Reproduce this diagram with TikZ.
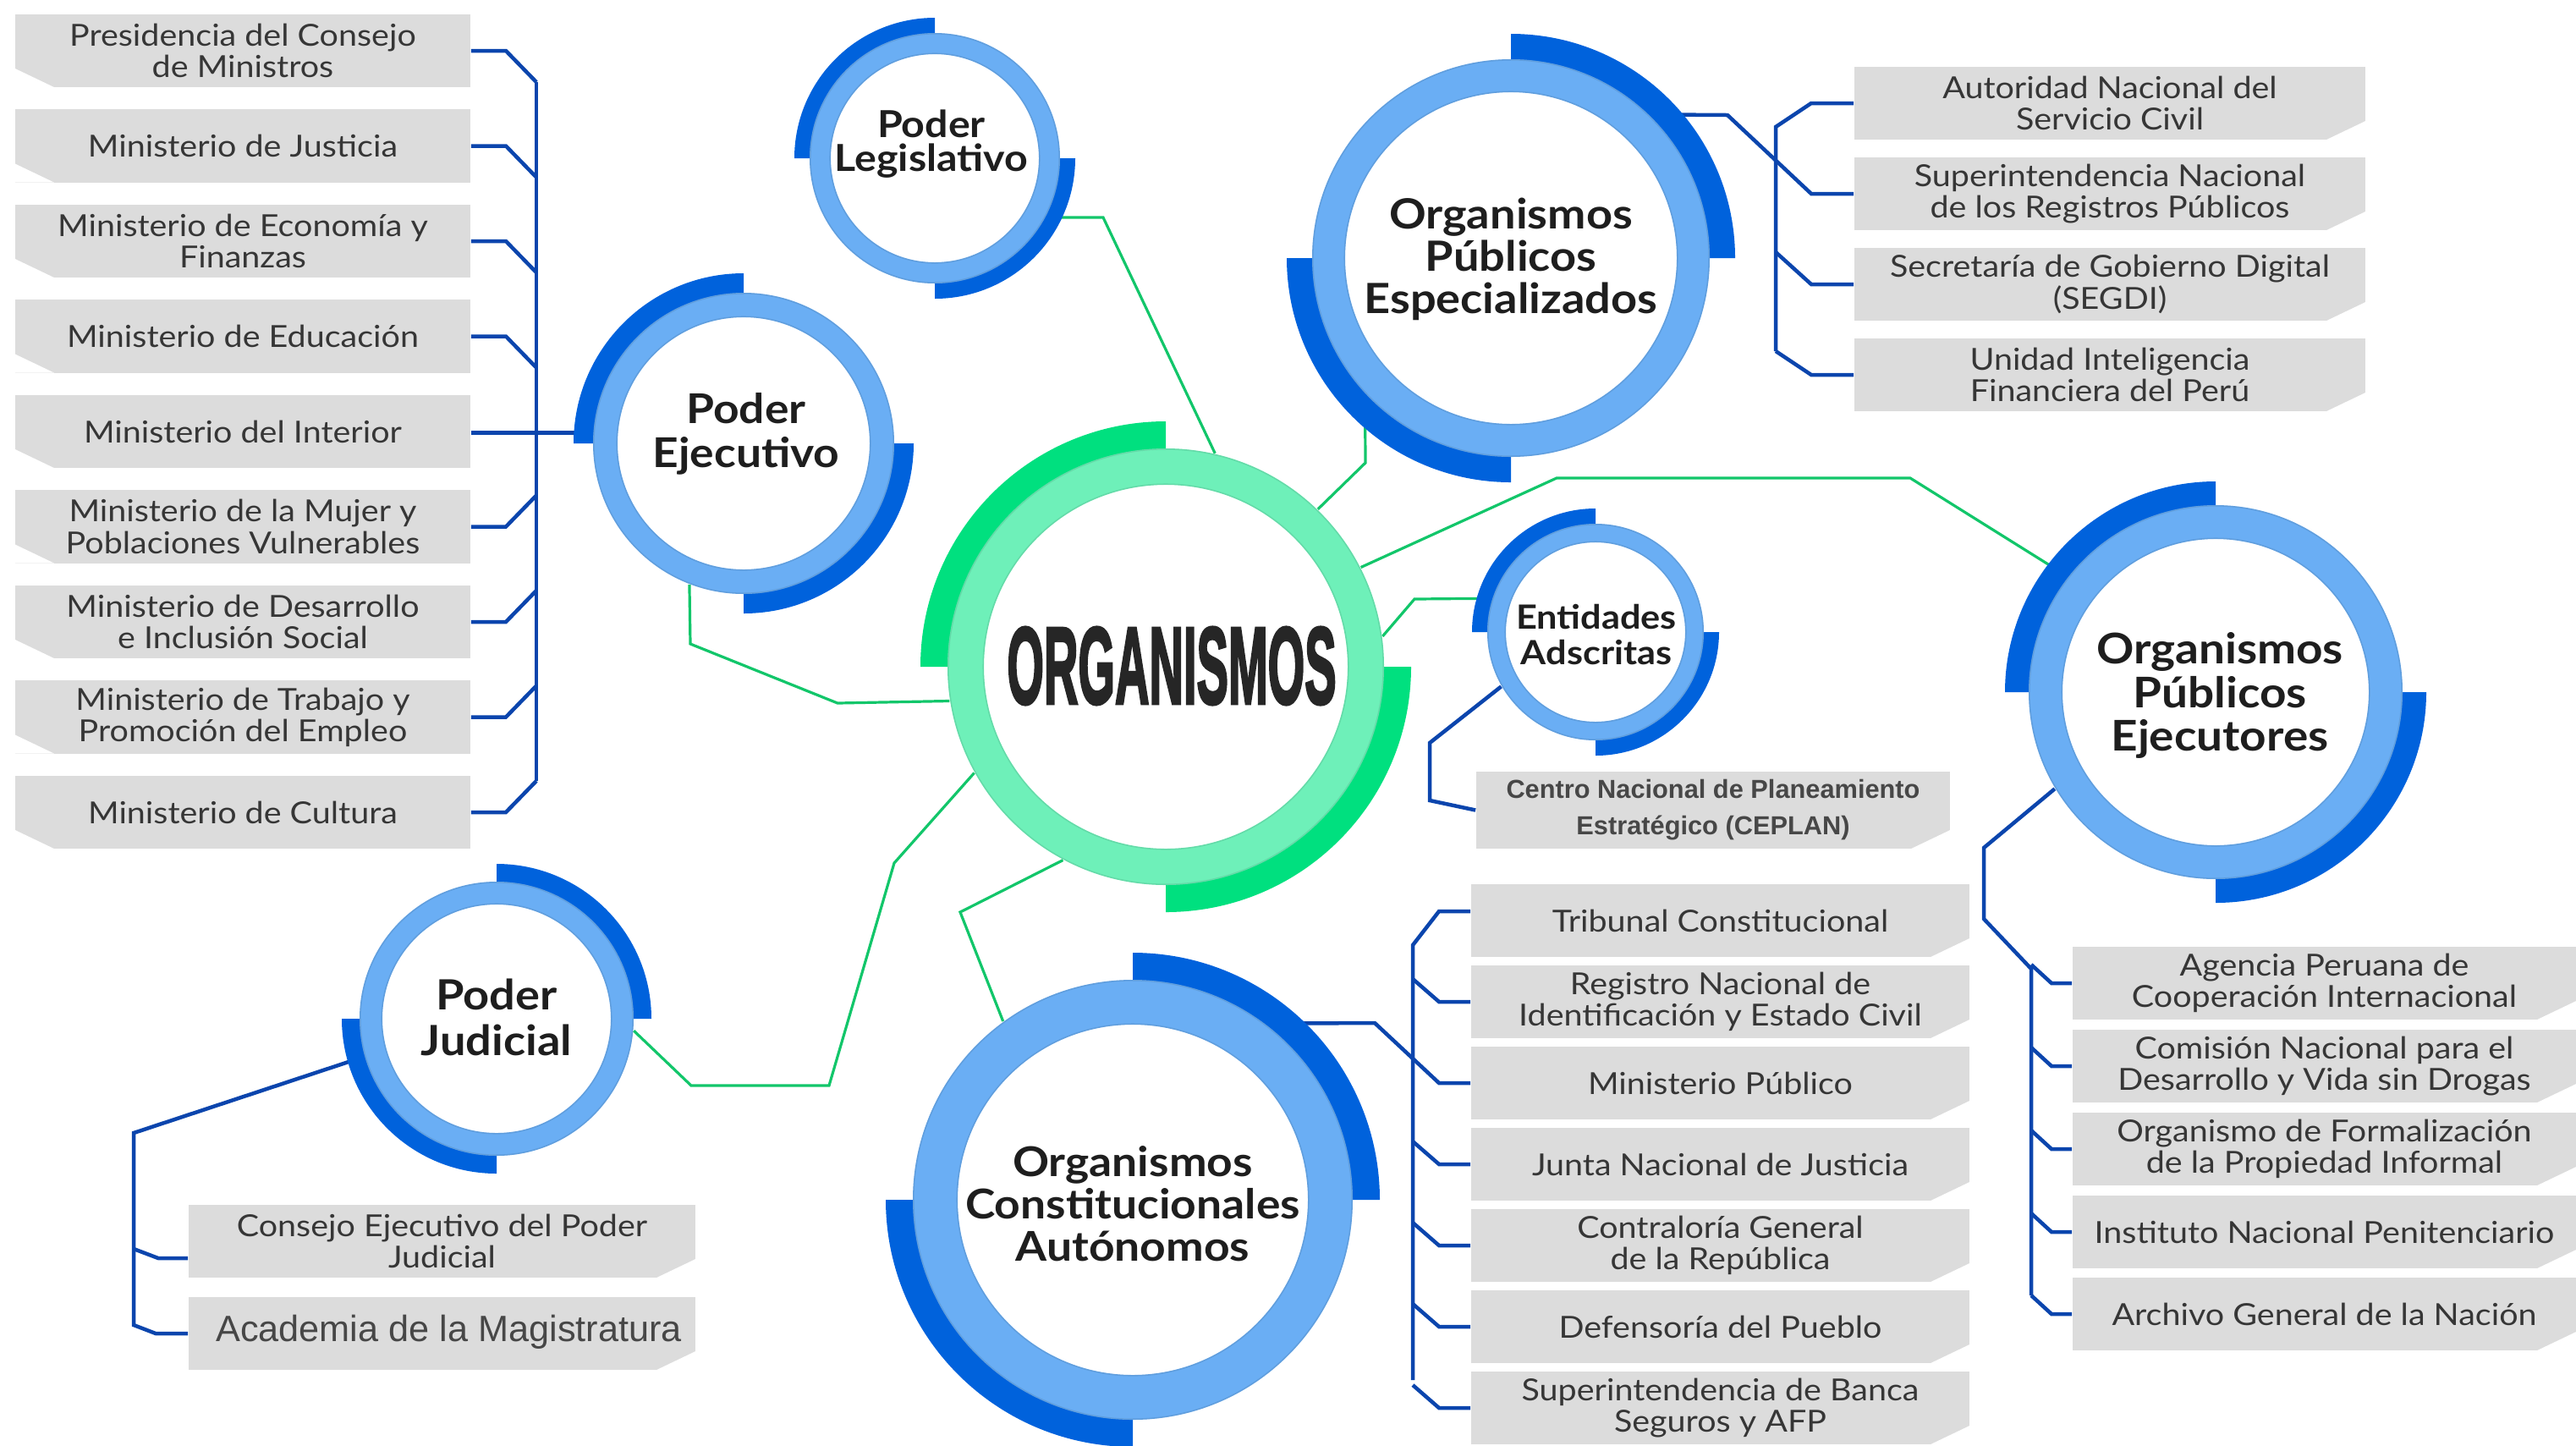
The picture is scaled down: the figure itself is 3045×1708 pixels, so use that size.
\documentclass[tikz,border=0pt]{standalone}
\usepackage{fontspec}
\usepackage{graphicx}
\usetikzlibrary{calc}
\newfontfamily\boxf{Lato}[FakeStretch=1.1]
\newfontfamily\arialf{Liberation Sans}
\newfontfamily\orgf{Liberation Sans}[BoldFeatures={FakeBold=3}]
\newcommand\titfont[2]{\boxf\bfseries\fontsize{#1}{#2}\selectfont}
\newcommand\bxfont{\boxf\fontsize{10.2}{10.6}\selectfont}
\definecolor{ringblue}{HTML}{6AAEF4}
\definecolor{arcblue}{HTML}{0062DC}
\definecolor{mint}{HTML}{6EF0B9}
\definecolor{arcgreen}{HTML}{00E07F}
\definecolor{lineblue}{HTML}{0B45AD}
\definecolor{linegreen}{HTML}{12C66A}
\definecolor{boxgray}{HTML}{DCDCDC}
\definecolor{boxtext}{HTML}{363636}
\definecolor{tittext}{HTML}{1E1E1E}
\pgfdeclarelayer{bg}
\pgfsetlayers{bg,main}
% #1 node, #2 Ro, #3 Ri, #4 Rd, #5 start angle, #6 arc colour
\newcommand\myarcs[6]{%
  \foreach \aa in {#5,#5+180}{%
    \fill[#6] ($(#1.center)+(\aa:#4)$) arc[start angle=\aa, delta angle=90, radius=#4]
      -- ($(#1.center)+(\aa+90:#2-8)$) arc[start angle=\aa+90, delta angle=-90, radius=#2-8] -- cycle;}%
}
% #1 node, #2 Ro, #3 Ri, #4 colour
\newcommand\mydisc[4]{%
  \fill[#4, even odd rule] (#1.center) circle[radius=#2] (#1.center) circle[radius=#3];
  \draw[#4!70!black, opacity=0.3, line width=0.015cm] (#1.center) circle[radius=#2-0.8] (#1.center) circle[radius=#3+0.8];
}
\begin{document}
\begin{tikzpicture}[x=0.01cm, y=0.01cm,
  circnode/.style={circle, minimum size=#1, inner sep=0pt},
  ctitle/.style={align=center, text=tittext, inner sep=0pt},
  gbox/.style={fill=boxgray, inner sep=0pt, minimum height=0.86cm, text=boxtext, align=center, font=\bxfont},
  chamL/.style={path picture={\fill[white] (path picture bounding box.south west) -- ++(0.46cm,0) -- ++(-0.46cm,0.22cm) -- cycle;}},
  chamR/.style={path picture={\fill[white] (path picture bounding box.south east) -- ++(-0.46cm,0) -- ++(0.46cm,0.22cm) -- cycle;}},
  gline/.style={linegreen, line width=0.032cm},
  bline/.style={lineblue, line width=0.045cm}]
\useasboundingbox (0,0) rectangle (3045,-1708);
\clip (0,0) rectangle (3045,-1708);

% ---------- circle nodes ----------
\node[circnode=5.16cm] (org) at (1378,-788) {};
\node[circnode=2.96cm] (leg) at (1105,-187) {};
\node[circnode=3.56cm] (eje) at (879,-524) {};
\node[circnode=3.24cm] (jud) at (587,-1204) {};
\node[circnode=4.70cm] (ope) at (1786,-305) {};
\node[circnode=4.42cm] (opej) at (2619,-818) {};
\node[circnode=2.56cm] (ent) at (1886,-747) {};
\node[circnode=5.20cm] (oca) at (1339,-1418) {};

% ---------- rings ----------
\myarcs{org}{258}{215}{290}{90}{arcgreen}
\mydisc{org}{258}{215}{mint}
\myarcs{leg}{148}{123}{166}{90}{arcblue}
\mydisc{leg}{148}{123}{ringblue}
\myarcs{eje}{178}{149}{201}{90}{arcblue}
\mydisc{eje}{178}{149}{ringblue}
\myarcs{jud}{162}{135}{183}{0}{arcblue}
\mydisc{jud}{162}{135}{ringblue}
\myarcs{ope}{235}{196}{265}{0}{arcblue}
\mydisc{ope}{235}{196}{ringblue}
\myarcs{opej}{221}{181}{249}{90}{arcblue}
\mydisc{opej}{221}{181}{ringblue}
\myarcs{ent}{128}{106}{146}{90}{arcblue}
\mydisc{ent}{128}{106}{ringblue}
\myarcs{oca}{260}{207}{292}{0}{arcblue}
\mydisc{oca}{260}{207}{ringblue}

% ---------- titles ----------
\node[inner sep=0pt, text=black!85] (orgT) at (1385,-787) {\resizebox{3.89cm}{0.90cm}{\orgf\bfseries ORGANISMOS}};
\node[ctitle, font=\titfont{12.5}{11.2}] (legT) at (1101,-170) {Poder\\Legislativo};
\node[ctitle, font=\titfont{13.8}{14.8}] (ejeT) at (882,-513) {Poder\\Ejecutivo};
\node[ctitle, font=\titfont{14}{15.4}] (judT) at (587,-1202) {Poder\\Judicial};
\node[ctitle, font=\titfont{14}{14.2}] (opeT) at (1786,-306) {Organismos\\Públicos\\Especializados};
\node[ctitle, font=\titfont{14.2}{14.6}] (opejT) at (2624,-822) {Organismos\\Públicos\\Ejecutores};
\node[ctitle, font=\titfont{11.2}{12.2}] (entT) at (1887,-750) {Entidades\\Adscritas};
\node[ctitle, font=\titfont{13.8}{14.2}] (ocaT) at (1339,-1423) {Organismos\\Constitucionales\\Autónomos};

% ---------- boxes: Poder Ejecutivo ----------
\node[gbox, chamL, minimum width=5.38cm] (b1) at (287,-60) {Presidencia del Consejo\\de Ministros};
\node[gbox, chamL, minimum width=5.38cm] (b2) at (287,-172.5) {Ministerio de Justicia};
\node[gbox, chamL, minimum width=5.38cm] (b3) at (287,-285) {Ministerio de Economía y\\Finanzas};
\node[gbox, chamL, minimum width=5.38cm] (b4) at (287,-397.5) {Ministerio de Educación};
\node[gbox, chamL, minimum width=5.38cm] (b5) at (287,-510) {Ministerio del Interior};
\node[gbox, chamL, minimum width=5.38cm] (b6) at (287,-622.5) {Ministerio de la Mujer y\\Poblaciones Vulnerables};
\node[gbox, chamL, minimum width=5.38cm] (b7) at (287,-735) {Ministerio de Desarrollo\\e Inclusión Social};
\node[gbox, chamL, minimum width=5.38cm] (b8) at (287,-847.5) {Ministerio de Trabajo y\\Promoción del Empleo};
\node[gbox, chamL, minimum width=5.38cm] (b9) at (287,-960) {Ministerio de Cultura};

% ---------- boxes: OPE ----------
\node[gbox, chamR, minimum width=6.04cm] (s1) at (2494,-122) {Autoridad Nacional del\\Servicio Civil};
\node[gbox, chamR, minimum width=6.04cm] (s2) at (2494,-229) {Superintendencia Nacional\\de los Registros Públicos};
\node[gbox, chamR, minimum width=6.04cm] (s3) at (2494,-336) {Secretaría de Gobierno Digital\\(SEGDI)};
\node[gbox, chamR, minimum width=6.04cm] (s4) at (2494,-443) {Unidad Inteligencia\\Financiera del Perú};

% ---------- boxes: Judicial ----------
\node[gbox, chamR, minimum width=5.99cm] (cj) at (522.5,-1467) {Consejo Ejecutivo del Poder\\Judicial};
\node[gbox, chamR, minimum width=5.99cm, text=black!72, font=\arialf\fontsize{12.3}{14}\selectfont] (ac) at (522.5,-1576) {\raisebox{0.12cm}{\hspace*{0.16cm}Academia de la Magistratura}};

% ---------- box: Entidades ----------
\node[gbox, chamR, minimum width=5.60cm, minimum height=0.91cm, text=black!72, font=\arialf\bfseries\fontsize{8.75}{12.2}\selectfont] (cep) at (2025,-957.5) {Centro Nacional de Planeamiento\\Estratégico (CEPLAN)};

% ---------- boxes: OCA ----------
\node[gbox, chamR, minimum width=5.89cm] (t1) at (2033.5,-1088) {Tribunal Constitucional};
\node[gbox, chamR, minimum width=5.89cm] (t2) at (2033.5,-1184) {Registro Nacional de\\Identificación y Estado Civil};
\node[gbox, chamR, minimum width=5.89cm] (t3) at (2033.5,-1280) {Ministerio Público};
\node[gbox, chamR, minimum width=5.89cm] (t4) at (2033.5,-1376) {Junta Nacional de Justicia};
\node[gbox, chamR, minimum width=5.89cm] (t5) at (2033.5,-1472) {Contraloría General\\de la República};
\node[gbox, chamR, minimum width=5.89cm] (t6) at (2033.5,-1568) {Defensoría del Pueblo};
\node[gbox, chamR, minimum width=5.89cm] (t7) at (2033.5,-1664) {Superintendencia de Banca\\Seguros y AFP};

% ---------- boxes: OPEjec ----------
\node[gbox, chamR, minimum width=5.95cm] (u1) at (2747.5,-1162) {Agencia Peruana de\\Cooperación Internacional};
\node[gbox, chamR, minimum width=5.95cm] (u2) at (2747.5,-1260) {Comisión Nacional para el\\Desarrollo y Vida sin Drogas};
\node[gbox, chamR, minimum width=5.95cm] (u3) at (2747.5,-1358) {Organismo de Formalización\\de la Propiedad Informal};
\node[gbox, chamR, minimum width=5.95cm] (u4) at (2747.5,-1456) {Instituto Nacional Penitenciario};
\node[gbox, chamR, minimum width=5.95cm] (u5) at (2747.5,-1553) {Archivo General de la Nación};

\coordinate (kcj) at (187,-1487);
\coordinate (kt1) at (1701,-1077);

% ---------- connectors ----------
\begin{pgfonlayer}{bg}
% green
\draw[gline] (org.77.3) -- (1304,-257) -- (leg.-28);
\draw[gline] (org.189.5) -- (990,-831) -- (816,-761) -- (eje.249.4);
\draw[gline] (org.209.4) -- (1057,-1020) -- (980,-1283) -- (817,-1283) -- (jud.-5);
\draw[gline] (org.242.4) -- (1135,-1078) -- (oca.126.6);
\draw[gline] (org.46.4) -- (1614,-547) -- (ope.223);
\draw[gline] (org.27.8) -- (1840,-565) -- (2258,-565) -- (opej.142.4);
\draw[gline] (org.8.9) -- (1672,-708) -- (ent.162.3);
% Ejecutivo
\draw[bline] (eje.176) -- (b5.east |- eje.176);
\draw[bline] (634,-97) -- (634,-923);
\foreach \n/\yy in {b1/60, b2/172.5, b3/285, b4/397.5}
  \draw[bline] (\n.east) -- (598,-\yy) -- (634,-\yy-37);
\foreach \n/\yy in {b6/622.5, b7/735, b8/847.5, b9/960}
  \draw[bline] (\n.east) -- (598,-\yy) -- (634,-\yy+37);
% OPE
\draw[bline] (ope.46) -- (2042,-136) -- (2141,-229) -- (s2.west);
\draw[bline] (s1.west) -- (2141,-122) -- (2099,-150) -- (2099,-415);
\draw[bline] (2099,-298) -- (2141,-336) -- (s3.west);
\draw[bline] (2099,-415) -- (2141,-443) -- (s4.west);
% Entidades
\draw[bline] (ent.210.6) -- (1690,-878) -- (1690,-946) -- (cep.west);
% Judicial
\draw[bline] (jud.196.5) -- (158,-1339) -- (158,-1566) -- (184,-1576) -- (ac.west);
\draw[bline] (158,-1476) -- (kcj) -- (cj.west |- kcj);
% OCA
\draw[bline] (oca.53.5) -- (1625,-1209) -- (1701,-1280) -- (t3.west);
\draw[bline] (t1.west |- kt1) -- (kt1) -- (1670,-1117) -- (1670,-1631);
\foreach \n/\yy in {t2/1184, t4/1376, t5/1472, t6/1568, t7/1664}
  \draw[bline] (1670,-\yy+27) -- (1701,-\yy) -- (\n.west);
% OPEjec
\draw[bline] (opej.211.5) -- (2345,-1002) -- (2345,-1086) -- (2401,-1145) -- (2401,-1531);
\foreach \n/\yy in {u1/1162, u2/1260, u3/1358, u4/1456, u5/1553}
  \draw[bline] (2401,-\yy+22) -- (2425,-\yy) -- (\n.west);
\end{pgfonlayer}
\end{tikzpicture}
\end{document}
